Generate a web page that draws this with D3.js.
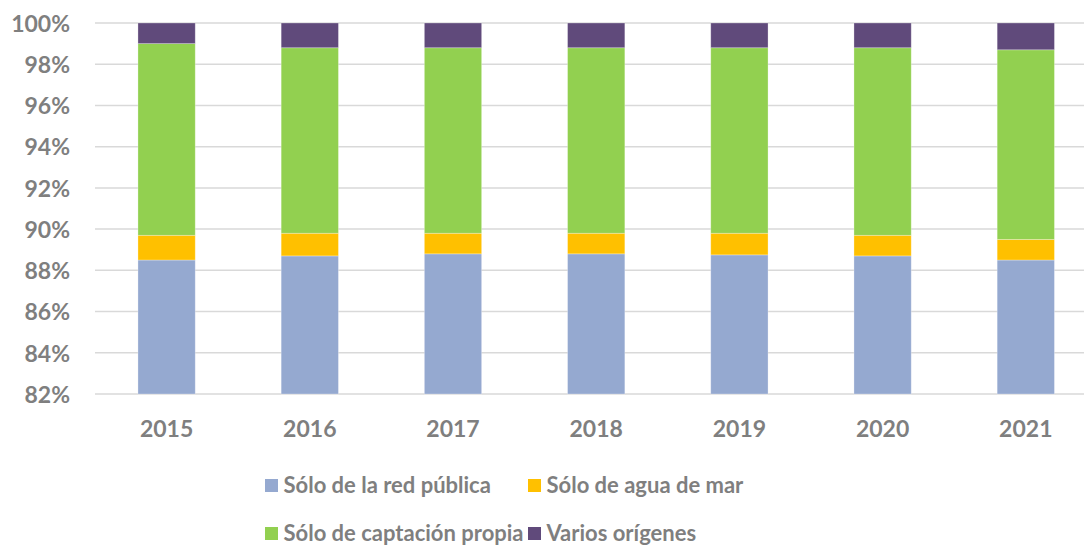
<!DOCTYPE html>
<html><head><meta charset="utf-8">
<script src="https://cdn.jsdelivr.net/npm/d3@7"></script>
<style>
html,body{margin:0;padding:0;background:#fff;}
svg{display:block;}
text{font-family:"Lato",sans-serif;font-weight:700;fill:#7f7f7f;}
</style></head>
<body><svg id="c" width="1084" height="545"></svg>
<script>
const years = ["2015","2016","2017","2018","2019","2020","2021"];
const seriesNames = ["Sólo de la red pública","Sólo de agua de mar","Sólo de captación propia","Varios orígenes"];
const redPublica = [88.5, 88.7, 88.8, 88.8, 88.75, 88.7, 88.5];
const aguaMar    = [1.2, 1.1, 1.0, 1.0, 1.05, 1.0, 1.0];
const captacion  = [9.3, 9.0, 9.0, 9.0, 9.0, 9.1, 9.2];
const varios     = [1.0, 1.2, 1.2, 1.2, 1.2, 1.2, 1.3];
const yTicks = [82,84,86,88,90,92,94,96,98,100];
const colors = ["#95a9d0","#ffc000","#92d050","#604a7b"];
const FONT = "Lato";
const FS = 23;

const svg = d3.select("#c");
const rows = years.map((y,i)=>({year:y, s0:redPublica[i], s1:aguaMar[i], s2:captacion[i], s3:varios[i]}));
const stack = d3.stack().keys(["s0","s1","s2","s3"])(rows);

const x = d3.scaleBand().domain(years).range([95,1097.4]).paddingInner(0.6).paddingOuter(0.3);
const y = d3.scaleLinear().domain([82,100]).range([394,23]);

// gridlines
svg.append("g").selectAll("line").data(yTicks).join("line")
  .attr("x1",95).attr("x2",1097).attr("y1",d=>y(d)).attr("y2",d=>y(d))
  .attr("stroke","#d9d9d9").attr("stroke-width",1.5);

// bars
const layers = svg.append("g").selectAll("g").data(stack).join("g")
  .attr("fill",(d,i)=>colors[i]);
layers.selectAll("rect").data(d=>d).join("rect")
  .attr("x",d=>x(d.data.year)).attr("width",x.bandwidth())
  .attr("y",d=>y(Math.min(d[1],100))).attr("height",d=>y(Math.max(d[0],82))-y(Math.min(d[1],100)))
  .attr("stroke","#ffffff").attr("stroke-opacity",0.35).attr("stroke-width",0.8);

// y axis labels
const yAxis = d3.axisLeft(y).tickValues(yTicks).tickFormat(d=>d+"%").tickSize(0).tickPadding(0);
const ya = svg.append("g").attr("transform","translate(70,0)").call(yAxis);
ya.select(".domain").remove();
ya.selectAll("text").attr("font-size",FS).attr("fill","#7f7f7f")
  .attr("font-family",FONT).attr("font-weight",700).attr("dy","0.36em");

// x axis labels
const xAxis = d3.axisBottom(x).tickSize(0).tickPadding(0);
const xa = svg.append("g").attr("transform","translate(0,437)").call(xAxis);
xa.select(".domain").remove();
xa.selectAll("text").attr("font-size",FS).attr("fill","#7f7f7f")
  .attr("font-family",FONT).attr("font-weight",700).attr("dy",0).attr("y",0);

// legend
const legPos = [[265,479],[528,479],[265,527],[528,527]];
const leg = svg.append("g").selectAll("g").data(seriesNames).join("g")
  .attr("transform",(d,i)=>`translate(${legPos[i][0]},${legPos[i][1]})`);
leg.append("rect").attr("width",13).attr("height",13).attr("fill",(d,i)=>colors[i]);
leg.append("text").attr("x",18.5).attr("y",13.8).attr("font-size",22).text(d=>d);
</script></body></html>
